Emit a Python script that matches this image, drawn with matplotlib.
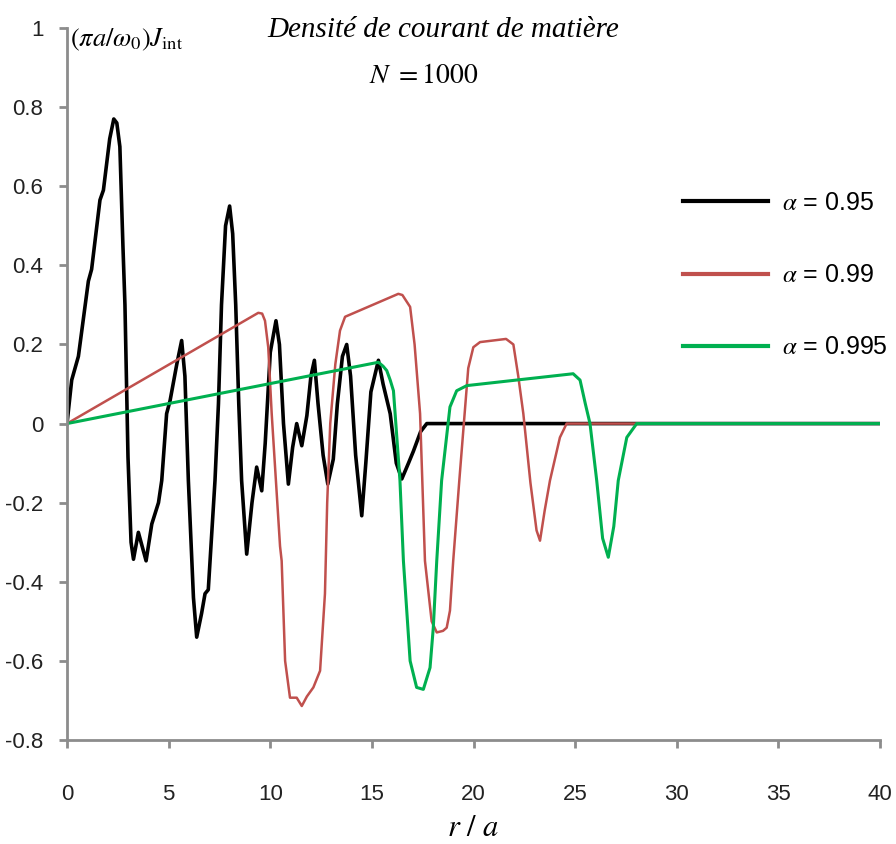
import numpy as np
import matplotlib
matplotlib.use('Agg')
import matplotlib.pyplot as plt

# alpha = 0.95 (black)
r_095 = [0, 0.23, 0.56, 1.05, 1.21, 1.62, 1.79, 2.1, 2.3, 2.45, 2.6, 2.75, 2.85, 3.0,
         3.15, 3.27, 3.51, 3.89, 4.17, 4.5, 4.66, 4.9, 5.07, 5.4, 5.64, 5.8, 5.97,
         6.22, 6.38, 6.62, 6.79, 6.95, 7.28, 7.45, 7.6, 7.8, 8.0, 8.15, 8.3, 8.45,
         8.59, 8.84, 9.1, 9.33, 9.58, 9.75, 10.0, 10.28, 10.45, 10.65, 10.89, 11.1,
         11.3, 11.55, 11.8, 12.0, 12.17, 12.35, 12.6, 12.83, 13.1, 13.3, 13.55,
         13.76, 13.95, 14.2, 14.5, 14.7, 14.95, 15.32, 15.55, 15.9, 16.2, 16.47,
         16.8, 17.04, 17.4, 17.7, 40]
j_095 = [0, 0.11, 0.17, 0.36, 0.39, 0.565, 0.59, 0.72, 0.77, 0.76, 0.70, 0.45, 0.3,
         -0.085, -0.3, -0.343, -0.275, -0.347, -0.254, -0.2, -0.144, 0.025, 0.058,
         0.15, 0.21, 0.12, -0.144, -0.44, -0.54, -0.48, -0.43, -0.42, -0.144, 0.05,
         0.3, 0.5, 0.55, 0.48, 0.3, 0.05, -0.144, -0.33, -0.2, -0.11, -0.17, -0.05,
         0.18, 0.26, 0.2, 0.0, -0.153, -0.06, 0.0, -0.056, 0.02, 0.12, 0.16, 0.05,
         -0.08, -0.153, -0.09, 0.05, 0.17, 0.2, 0.12, -0.08, -0.233, -0.1, 0.08,
         0.16, 0.1, 0.025, -0.1, -0.14, -0.1, -0.07, -0.02, 0.0, 0.0]

# alpha = 0.99 (red)
r_099 = [0, 9.41, 9.6, 9.74, 9.9, 10.07, 10.48, 10.56, 10.73, 10.97, 11.3, 11.55,
         11.8, 12.12, 12.45, 12.69, 12.8, 12.95, 13.2, 13.43, 13.68, 16.3, 16.5,
         16.88, 17.1, 17.37, 17.61, 17.94, 18.19, 18.5, 18.68, 18.84, 19.0, 19.3,
         19.74, 19.99, 20.32, 21.6, 21.96, 22.2, 22.45, 22.8, 23.1, 23.27, 23.5,
         23.76, 24.25, 24.58, 40]
j_099 = [0, 0.28, 0.278, 0.26, 0.193, 0.025, -0.31, -0.347, -0.6, -0.693, -0.693,
         -0.714, -0.69, -0.667, -0.625, -0.43, -0.2, 0.0, 0.15, 0.235, 0.27, 0.328,
         0.325, 0.295, 0.2, 0.025, -0.347, -0.5, -0.528, -0.524, -0.516, -0.473,
         -0.347, -0.144, 0.14, 0.193, 0.206, 0.214, 0.2, 0.12, 0.025, -0.15, -0.27,
         -0.296, -0.22, -0.144, -0.035, 0.0, 0.0]

# alpha = 0.995 (green)
r_0995 = [0, 15.32, 15.55, 15.73, 15.9, 16.06, 16.38, 16.55, 16.88, 17.2, 17.53,
          17.86, 18.02, 18.19, 18.43, 18.84, 19.17, 19.67, 24.9, 25.24, 25.5, 25.73,
          26.06, 26.35, 26.63, 26.9, 27.12, 27.54, 28.03, 40]
j_0995 = [0, 0.155, 0.145, 0.134, 0.11, 0.083, -0.144, -0.347, -0.6, -0.667, -0.672,
          -0.617, -0.516, -0.347, -0.144, 0.042, 0.083, 0.096, 0.126, 0.11, 0.05, 0.0,
          -0.144, -0.29, -0.338, -0.26, -0.144, -0.035, 0.0, 0.0]

x_ticks = [0, 5, 10, 15, 20, 25, 30, 35, 40]
y_ticks = [1, 0.8, 0.6, 0.4, 0.2, 0, -0.2, -0.4, -0.6, -0.8]
y_tick_labels = ['1', '0.8', '0.6', '0.4', '0.2', '0', '-0.2', '-0.4', '-0.6', '-0.8']

plt.rcParams['mathtext.fontset'] = 'stix'
sans = ['Liberation Sans', 'DejaVu Sans']
axis_grey = '#8c8c8c'

fig = plt.figure(figsize=(8.96, 8.44), dpi=100)
ax = fig.add_axes([0.0748, 0.1232, 0.9074, 0.8436])

ax.plot(r_095, j_095, color='black', lw=2.6, label=r'$\alpha$ = 0.95')
ax.plot(r_099, j_099, color='#c0504d', lw=1.8, label=r'$\alpha$ = 0.99')
ax.plot(r_0995, j_0995, color='#00b050', lw=2.2, label=r'$\alpha$ = 0.995')

ax.set_xlim(0, 40)
ax.set_ylim(-0.8, 1)
ax.set_xticks(x_ticks)
ax.set_xticklabels([str(t) for t in x_ticks], family=sans, fontsize=16, color='#222222')
ax.set_yticks(y_ticks)
ax.set_yticklabels(y_tick_labels, family=sans, fontsize=16, color='#222222')
ax.tick_params(axis='both', direction='out', length=6, width=2, color=axis_grey)
ax.tick_params(axis='x', pad=26)
ax.tick_params(axis='y', pad=11)

for side in ['top', 'right']:
    ax.spines[side].set_visible(False)
for side in ['left', 'bottom']:
    ax.spines[side].set_color(axis_grey)
    ax.spines[side].set_linewidth(2)

leg = ax.legend(loc='upper left', bbox_to_anchor=(683 / 896, 1 - 191 / 844),
                bbox_transform=fig.transFigure, frameon=False, borderpad=0,
                borderaxespad=0, handlelength=3.4, handletextpad=0.56,
                labelspacing=1.93, prop={'family': sans, 'size': 18})
for line in leg.get_lines():
    line.set_linewidth(3)

fig.text(70 / 896, 1 - 40 / 844, r'$\left(\pi a/\omega_0\right)J_{\mathrm{int}}$',
         fontsize=19, ha='left', va='center')
fig.text(443 / 896, 1 - 30 / 844, 'Densité de courant de matière',
         family='Liberation Serif', style='italic', fontsize=21,
         ha='center', va='center')
fig.text(424 / 896, 1 - 75 / 844, r'$N\ =1000$', fontsize=20,
         ha='center', va='center')
fig.text(473 / 896, 1 - 828 / 844, r'$r\ /\ a$', fontsize=22,
         ha='center', va='center')

fig.savefig('out.png', dpi=100)
